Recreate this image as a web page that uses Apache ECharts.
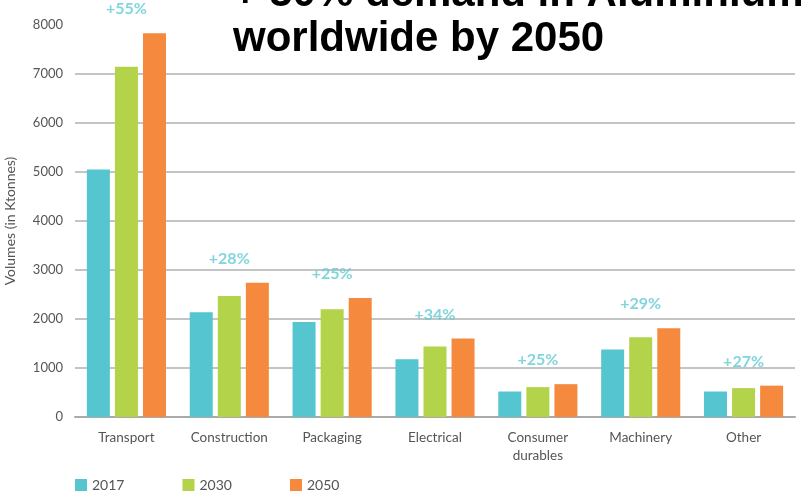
<!DOCTYPE html>
<html>
<head>
<meta charset="utf-8">
<script src="https://cdn.jsdelivr.net/npm/echarts@6/dist/echarts.min.js"></script>
<style>
  html, body { margin: 0; padding: 0; background: #fff; }
  #chart { width: 802px; height: 493px; }
</style>
</head>
<body>
<div id="chart"></div>
<script>
var categories = ['Transport', 'Construction', 'Packaging', 'Electrical', 'Consumer\ndurables', 'Machinery', 'Other'];
var years = ['2017', '2030', '2050'];
var vol2017 = [5050, 2140, 1940, 1180, 520, 1380, 520];
var vol2030 = [7150, 2470, 2200, 1440, 610, 1630, 590];
var vol2050 = [7830, 2740, 2430, 1600, 670, 1810, 640];
var growth = ['+55%', '+28%', '+25%', '+34%', '+25%', '+29%', '+27%'];

var colors = ['#55c5cf', '#b3d34b', '#f58a3e'];
var labelFont = 'Lato, "DejaVu Sans", sans-serif';

var chart = echarts.init(document.getElementById('chart'));

function barSeries(name, data, i) {
    return {
        name: name,
        type: 'bar',
        data: data,
        barWidth: 23,
        barGap: '22%',
        itemStyle: { color: colors[i] },
        emphasis: { disabled: true }
    };
}

chart.setOption({
    animation: false,
    title: {
        text: '+ 50% demand in Aluminium\nworldwide by 2050',
        left: 228,
        top: -33,
        textStyle: {
            fontFamily: '"Liberation Sans", Arial, sans-serif',
            fontWeight: 'bold',
            fontSize: 42,
            lineHeight: 45,
            color: '#000'
        }
    },
    legend: {
        data: years,
        left: 70,
        bottom: -4,
        itemWidth: 12,
        itemHeight: 12,
        itemGap: 58,
        icon: 'rect',
        textStyle: { fontFamily: labelFont, fontSize: 14, color: '#555' }
    },
    grid: { left: 75, right: 7, top: 25, bottom: 76, outerBoundsMode: 'none' },
    xAxis: {
        type: 'category',
        data: categories,
        axisTick: { show: false },
        axisLine: { lineStyle: { color: '#aaa', width: 2 } },
        axisLabel: {
            interval: 0,
            fontFamily: labelFont,
            fontSize: 13.5,
            color: '#555',
            margin: 12,
            lineHeight: 18
        }
    },
    yAxis: {
        type: 'value',
        min: 0,
        max: 8000,
        interval: 1000,
        name: 'Volumes (in Ktonnes)',
        nameLocation: 'middle',
        nameGap: 58,
        nameTextStyle: { fontFamily: labelFont, fontSize: 14, color: '#555' },
        axisLabel: {
            fontFamily: labelFont,
            fontSize: 13,
            color: '#555',
            margin: 12,
            formatter: function (v) { return String(v); }
        },
        splitLine: {
            lineStyle: { color: '#c4c4c4', width: 2 },
            showMaxLine: false
        }
    },
    series: [
        barSeries('2017', vol2017, 0),
        barSeries('2030', vol2030, 1),
        barSeries('2050', vol2050, 2),
        {
            type: 'scatter',
            data: vol2050,
            symbolSize: 0,
            silent: true,
            label: {
                show: true,
                position: 'top',
                distance: 16,
                formatter: function (p) { return growth[p.dataIndex]; },
                fontFamily: labelFont,
                fontSize: 16,
                fontWeight: 'bold',
                color: '#62cad4'
            }
        }
    ]
});
</script>
</body>
</html>
